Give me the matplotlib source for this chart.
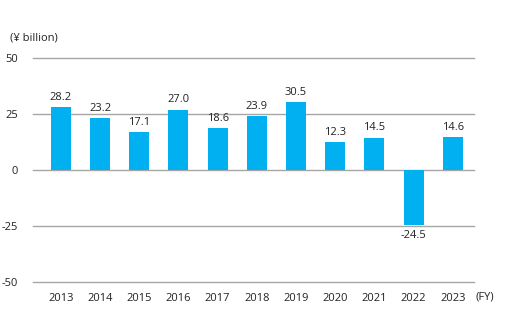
import numpy as np
import matplotlib.pyplot as plt

plt.rcParams['font.family'] = ['Open Sans', 'DejaVu Sans']

years = ['2013', '2014', '2015', '2016', '2017', '2018', '2019', '2020', '2021', '2022', '2023']
values = [28.2, 23.2, 17.1, 27.0, 18.6, 23.9, 30.5, 12.3, 14.5, -24.5, 14.6]
yticks = [50, 25, 0, -25, -50]

bar_color = '#00B0F0'
grid_color = '#a6a6a6'
text_color = '#222222'

fig = plt.figure(figsize=(5.23, 3.28), dpi=100)
ax = fig.add_axes([33 / 523, 1 - 282 / 328, (474 - 33) / 523, (282 - 58) / 328])

x = np.arange(len(years))
ax.bar(x, values, width=0.51, color=bar_color, zorder=3)

for xi, v in zip(x, values):
    if v >= 0:
        ax.annotate(f'{v:.1f}', (xi, v), xytext=(0, 3), textcoords='offset points',
                    ha='center', va='bottom', fontsize=8, color=text_color)
    else:
        ax.annotate(f'{v:.1f}', (xi, v), xytext=(0, -4), textcoords='offset points',
                    ha='center', va='top', fontsize=8, color=text_color)

ax.set_xlim(-0.71, 10.54)
ax.set_ylim(-50, 50)
ax.set_yticks(yticks)
ax.set_yticklabels([str(t) for t in yticks])
ax.set_xticks(x)
ax.set_xticklabels(years)
for t in yticks:
    ax.axhline(t, color=grid_color, linewidth=1, zorder=1, clip_on=False)

ax.tick_params(axis='both', length=0, labelsize=8, colors=text_color)
ax.tick_params(axis='y', pad=11)
ax.tick_params(axis='x', pad=8)
for s in ax.spines.values():
    s.set_visible(False)

fig.text(10 / 523, 1 - 38 / 328, '(¥ billion)', fontsize=8, color=text_color, va='center', ha='left')
fig.text(476 / 523, 1 - 297 / 328, '(FY)', fontsize=8, color=text_color, va='center', ha='left')

fig.savefig('out.png', dpi=100)
